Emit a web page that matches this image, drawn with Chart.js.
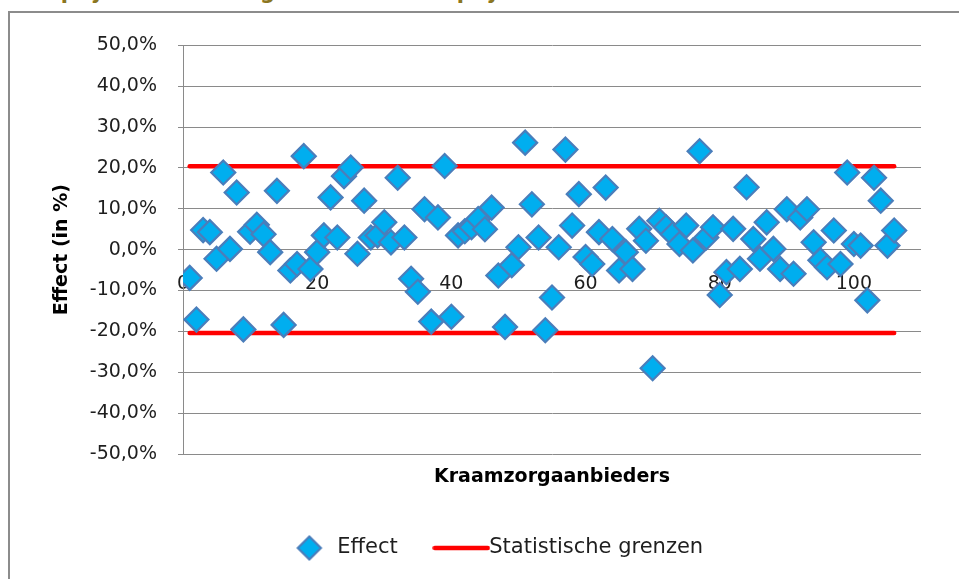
<!DOCTYPE html>
<html><head><meta charset="utf-8">
<script src="https://cdn.jsdelivr.net/npm/chart.js@4.4.0/dist/chart.umd.min.js"></script>
<style>
html,body{margin:0;padding:0;background:#fff;overflow:hidden;width:959px;height:579px;}
#title{position:absolute;left:8px;top:-20px;font:bold 21px "DejaVu Sans";line-height:24px;color:#8B7621;white-space:nowrap;}
#frame{position:absolute;left:8px;top:11px;width:951px;height:568px;border-top:2px solid #8c8c8c;border-left:2px solid #8c8c8c;box-sizing:border-box;overflow:hidden;}
#wrap{position:absolute;left:0;top:0;width:975px;height:570px;}
</style></head><body>
<div id="title">Kostprijzen en sectorgemiddelde kostprijzen</div>
<div id="frame"><div id="wrap"><canvas id="c" width="975" height="570"></canvas></div></div>
<script>
// Categories: provider numbers (Kraamzorgaanbieders)
const providers = [1,2,3,4,5,6,7,8,9,10,11,12,13,14,15,16,17,18,19,20,
  21,22,23,24,25,26,27,28,29,30,31,32,33,34,35,36,37,38,39,40,
  41,42,43,44,45,46,47,48,49,50,51,52,53,54,55,56,57,58,59,60,
  61,62,63,64,65,66,67,68,69,70,71,72,73,74,75,76,77,78,79,80,
  81,82,83,84,85,86,87,88,89,90,91,92,93,94,95,96,97,98,99,100,
  101,102,103,104,105,106];
// Effect in %
const effect = [-6.9,-17.1,4.8,4.3,-2.2,18.9,0.2,14.0,-19.5,4.4,
  6.1,3.8,-0.6,14.4,-18.4,-5.1,-3.5,22.9,-4.7,-0.6,
  3.5,12.8,3.0,18.0,20.1,-1.0,12.0,3.0,3.5,6.7,
  1.8,17.6,3.0,-7.1,-10.3,9.9,-17.6,7.9,20.5,-16.4,
  3.5,4.5,5.5,7.5,5.0,10.3,-6.3,-18.9,-3.8,0.6,
  26.2,11.1,3.0,-19.7,-11.7,0.6,24.5,5.9,13.6,-1.8,
  -3.5,4.3,15.2,2.6,-5.1,-0.6,-4.7,5.1,2.2,-29.0,
  7.1,5.5,3.8,1.4,5.9,-0.2,24.1,3.0,5.5,-11.1,
  -5.5,5.1,-4.7,15.3,2.6,-2.2,6.7,0.2,-4.7,9.9,
  -5.9,7.9,9.9,1.8,-2.6,-4.3,4.7,-3.5,18.9,1.4,
  1.0,-12.4,17.6,12.0,1.0,4.7];
// Statistical limits (start and end provider, value)
const limitX = [1, 106];
const upperLimit = [20.4, 20.4];
const lowerLimit = [-20.4, -20.4];
// Axis ticks
const yTickValues = [-50,-40,-30,-20,-10,0,10,20,30,40,50];
const xTickValues = [0,20,40,60,80,100];
const xMax = 110;

const FONT = '"DejaVu Sans", sans-serif';
Chart.defaults.font.family = FONT;
Chart.defaults.color = '#1e1e1e';

function diamondImage(){
  const c = document.createElement('canvas'); c.width = 28; c.height = 28;
  const g = c.getContext('2d');
  g.beginPath(); g.moveTo(14,2.5); g.lineTo(25.5,14); g.lineTo(14,25.5); g.lineTo(2.5,14); g.closePath();
  g.fillStyle = '#00AEEF'; g.fill(); g.lineWidth = 2.2; g.strokeStyle = '#4A7EBB'; g.stroke();
  return c;
}
function lineImage(){
  const c = document.createElement('canvas'); c.width = 58; c.height = 6;
  const g = c.getContext('2d');
  g.strokeStyle = '#FF0000'; g.lineWidth = 4.5; g.lineCap = 'round';
  g.beginPath(); g.moveTo(2.5,3); g.lineTo(55.5,3); g.stroke();
  return c;
}
const legendDiamond = diamondImage();
const legendLine = lineImage();

const pts = (xs, ys) => xs.map((x, i) => ({x: x, y: ys[i]}));

new Chart(document.getElementById('c'), {
  type: 'scatter',
  data: {
    datasets: [
      { label: 'Effect', data: pts(providers, effect), showLine: false,
        pointStyle: 'rectRot', pointRadius: 12, pointHoverRadius: 12,
        backgroundColor: '#00AEEF', borderColor: '#4A7EBB', pointBorderWidth: 2.2, borderWidth: 2.2, order: 0 },
      { label: 'Statistische grenzen', data: pts(limitX, upperLimit), showLine: true,
        pointRadius: 0, borderColor: '#FF0000', backgroundColor: '#FF0000', borderWidth: 4.5,
        borderCapStyle: 'round', order: 1 },
      { label: 'Ondergrens', data: pts(limitX, lowerLimit), showLine: true,
        pointRadius: 0, borderColor: '#FF0000', backgroundColor: '#FF0000', borderWidth: 4.5,
        borderCapStyle: 'round', order: 1 }
    ]
  },
  options: {
    responsive: false, animation: false, devicePixelRatio: 1, events: [],
    layout: { padding: { top: 29, right: 0, bottom: 14.5, left: 0 } },
    plugins: {
      tooltip: { enabled: false },
      legend: {
        position: 'bottom',
        labels: {
          usePointStyle: true, pointStyleWidth: 35, padding: 46,
          font: { size: 21 }, color: '#1e1e1e',
          generateLabels(chart) {
            const items = Chart.defaults.plugins.legend.labels.generateLabels(chart);
            items.forEach(it => { it.pointStyle = it.datasetIndex === 0 ? legendDiamond : legendLine; });
            return items;
          },
          filter: item => item.datasetIndex !== 2
        }
      }
    },
    scales: {
      x: {
        type: 'linear', axis: 'x', position: { y: 0 }, min: 0, max: xMax,
        grid: { display: false, drawTicks: false }, border: { display: false },
        ticks: { stepSize: 20, includeBounds: false, padding: 23, font: { size: 19 }, color: '#1e1e1e',
          callback: v => xTickValues.includes(v) ? String(v) : '' }
      },
      x2: {
        type: 'linear', axis: 'x', position: 'bottom', min: 0, max: xMax,
        grid: { display: false, drawTicks: false }, border: { display: false },
        ticks: { display: false },
        title: { display: true, text: 'Kraamzorgaanbieders', font: { size: 19, weight: 'bold' },
          color: '#000', padding: { top: 11.6, bottom: 3.1 } }
      },
      y: {
        type: 'linear', position: 'left', min: -50, max: 50,
        afterFit: s => { s.width = 173; },
        afterBuildTicks: s => { s.ticks = yTickValues.map(v => ({ value: v })); },
        grid: { color: '#8a8a8a', lineWidth: 1, tickLength: 5, drawTicks: true },
        border: { display: true, color: '#8a8a8a', width: 1 },
        ticks: { padding: 21, font: { size: 19 }, color: '#1e1e1e',
          callback: v => v.toFixed(1).replace('.', ',') + '%' },
        title: { display: true, text: 'Effect (in %)', font: { size: 19, weight: 'bold' },
          color: '#000', padding: { top: 40.6, bottom: 0 } }
      },
      yRight: {
        type: 'linear', axis: 'y', position: 'right', min: 0, max: 1,
        afterFit: s => { s.width = 64; },
        grid: { display: false, drawTicks: false }, border: { display: false },
        ticks: { display: false }
      }
    }
  }
});
</script>
</body></html>
